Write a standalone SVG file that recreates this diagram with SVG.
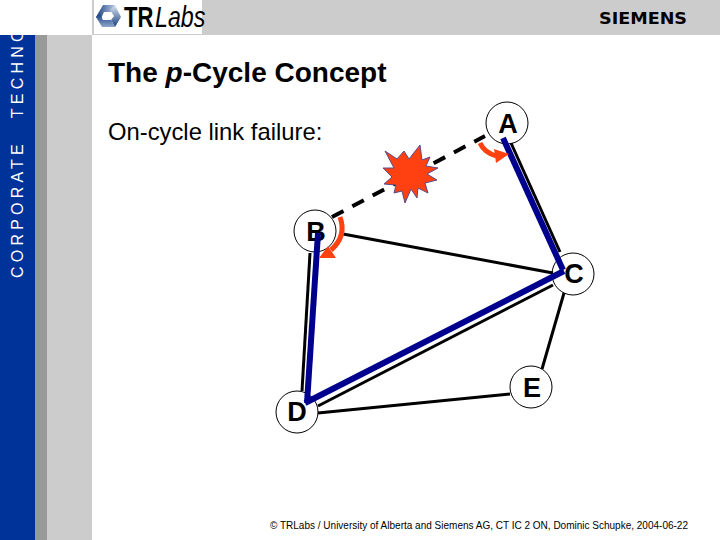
<svg xmlns="http://www.w3.org/2000/svg" width="720" height="540" viewBox="0 0 720 540">
<defs>
<clipPath id="band"><rect x="0" y="35" width="35" height="505"/></clipPath>
<linearGradient id="logoA" x1="0" y1="0" x2="1" y2="0"><stop offset="0" stop-color="#17407f"/><stop offset="1" stop-color="#b9c9e2"/></linearGradient>
<linearGradient id="logoB" x1="0" y1="0" x2="0" y2="1"><stop offset="0" stop-color="#dde5f2"/><stop offset="1" stop-color="#17407f"/></linearGradient>
<linearGradient id="logoC" x1="0" y1="0" x2="0" y2="1"><stop offset="0" stop-color="#17407f"/><stop offset="1" stop-color="#8ea6cc"/></linearGradient>
</defs>
<style>
text{font-family:"Liberation Sans",Arial,sans-serif}
.n{fill:#fff;stroke:#000;stroke-width:1}
.nt{font-size:27px;font-weight:bold;text-anchor:middle;fill:#000}
.k{stroke:#000;stroke-width:3;fill:none}
.b{stroke:#00008e;stroke-width:6;fill:none}
.r{stroke:#ff4010;stroke-width:5;fill:none}
.rh{fill:#ff4010}
</style>
<rect width="720" height="540" fill="#fff"/>
<rect x="92" y="0" width="628" height="35" fill="#ccc"/>
<rect x="0" y="35" width="35" height="505" fill="#003399"/>
<rect x="35" y="35" width="12" height="505" fill="#999"/>
<rect x="47" y="35" width="45" height="505" fill="#ccc"/>
<g clip-path="url(#band)"><text transform="translate(23 278) rotate(-90)" font-size="16" letter-spacing="4.2" word-spacing="13.5" fill="#fff">CORPORATE TECHNO</text></g>
<g id="logo">
<rect x="94" y="0" width="108" height="34" fill="#fff"/>
<polygon points="96,17 103,5 115,5 111,12 104,12 100,21" fill="url(#logoA)"/>
<polygon points="115,5 121,17 115,27 111,20 114,16 110,10" fill="url(#logoB)"/>
<polygon points="96,17 102,27 115,27 111,20 103,20 100,14" fill="url(#logoC)"/>
<text transform="translate(124 27) scale(.76 1)" font-size="29" font-weight="bold" fill="#000">TR</text>
<text transform="translate(155 27) scale(.8 1)" font-size="29" font-style="italic" fill="#000">Labs</text>
</g>
<text x="599" y="24" font-size="16" font-weight="bold" textLength="88" lengthAdjust="spacingAndGlyphs" style="font-family:'DejaVu Sans',sans-serif" fill="#000">SIEMENS</text>
<text x="108" y="82" font-size="28" font-weight="bold" fill="#000">The <tspan font-style="italic">p</tspan>-Cycle Concept</text>
<text x="108" y="140" font-size="23.8" fill="#000">On-cycle link failure:</text>
<g id="nodes">
<g id="A"><circle class="n" cx="507" cy="123" r="21"/><text class="nt" x="508" y="133">A</text></g>
<g id="B"><circle class="n" cx="315" cy="231" r="21"/><text class="nt" x="316" y="241">B</text></g>
<g id="C"><circle class="n" cx="573" cy="274" r="21"/><text class="nt" x="574" y="283">C</text></g>
<g id="D"><circle class="n" cx="297" cy="412" r="21"/><text class="nt" x="297" y="421">D</text></g>
<g id="E"><circle class="n" cx="531" cy="387" r="21"/><text class="nt" x="532" y="397">E</text></g>
</g>
<g id="connectors">
<line class="k" x1="511" y1="143" x2="560" y2="252"/>
<line class="k" x1="343" y1="234" x2="553" y2="273"/>
<line class="k" x1="310" y1="253" x2="302" y2="391"/>
<line class="k" x1="553" y1="285" x2="318" y2="406"/>
<line class="k" x1="318" y1="413" x2="510" y2="394"/>
<line class="k" x1="564" y1="293" x2="542" y2="369"/>
<line class="k" style="stroke-width:4" stroke-dasharray="13 10" x1="332" y1="217" x2="485" y2="136"/>
<line class="b" x1="503" y1="138" x2="563" y2="270"/>
<line class="b" x1="564" y1="271" x2="305" y2="403"/>
<line class="b" x1="307" y1="403" x2="318" y2="233"/>
<path class="r" d="M480 143Q484 152 496 156"/>
<polygon class="rh" points="509,154 494,149 496,163"/>
<path class="r" d="M340 217Q347 236 331 250"/>
<polygon class="rh" points="319,258 328,246 336,258"/>
</g>
<g id="burst"><polygon points="385,151 397,159 404,151 409,159 420,145 422,160 430,157 426,166 438,168 427,174 437,180 425,183 428,193 418,188 417,198 411,189 405,203 402,191 394,193 396,185 384,184 392,177 383,168 394,168" fill="#ff4010" stroke="#5a4a8a" stroke-width="1"/></g>
<text x="270" y="529" font-size="10.5" textLength="418" lengthAdjust="spacingAndGlyphs" fill="#000">© TRLabs / University of Alberta and Siemens AG, CT IC 2 ON, Dominic Schupke, 2004-06-22</text>
</svg>
